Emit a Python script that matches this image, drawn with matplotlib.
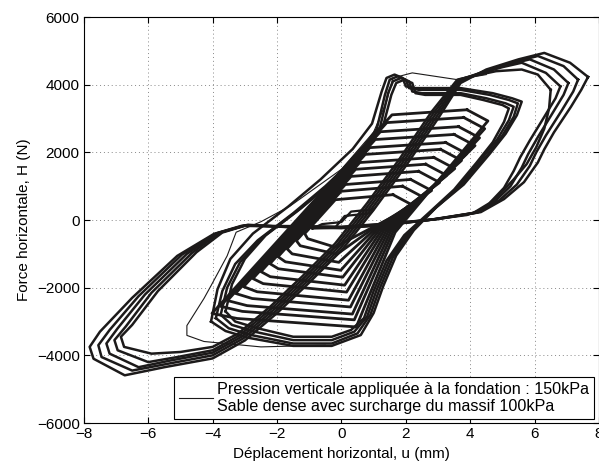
import matplotlib.pyplot as plt

plt.rcParams['font.family'] = ['Liberation Sans', 'DejaVu Sans']

# big loops (amplitude 6.5 - 7.7 mm), vertices (u mm, H N)
big_loops = [
    [(6.5, 3850), (6.45, 3300), (6.3, 2700), (6.05, 2150), (5.75, 1650), (5.35, 1200), (4.85, 700), (4.4, 320),
     (3.9, 150), (2.6, -10), (1.5, -140), (0, -240), (-1.5, -220), (-2.9, -140), (-3.7, -370), (-4.5, -950),
     (-5.7, -2100), (-6.5, -3100), (-6.85, -3450), (-6.75, -3750), (-5.9, -3950), (-5.0, -3900), (-4.0, -3750),
     (-3.2, -3350), (-2.2, -2550), (-1.2, -1650), (-0.2, -700), (0.8, 500), (1.8, 1800), (2.8, 3200), (3.6, 4150),
     (4.2, 4280), (4.8, 4400), (5.6, 4450), (6.1, 4300), (6.5, 3850)],
    [(6.8, 3950), (6.65, 3600), (6.3, 3050), (5.85, 2350), (5.55, 1850), (5.35, 1450), (5.05, 950), (4.6, 500),
     (4.1, 210), (2.7, 0), (1.5, -130), (0, -230), (-1.5, -210), (-2.95, -150), (-3.8, -380), (-4.65, -980),
     (-5.9, -2150), (-6.7, -3150), (-7.05, -3550), (-6.95, -3850), (-6.0, -4200), (-5.1, -4050), (-4.0, -3850),
     (-3.15, -3400), (-2.15, -2600), (-1.15, -1700), (-0.15, -750), (0.85, 450), (1.85, 1750), (2.85, 3150),
     (3.65, 4150), (4.3, 4330), (5.0, 4520), (5.6, 4650), (6.35, 4350), (6.8, 3950)],
    [(7.05, 4050), (6.9, 3700), (6.55, 3150), (6.1, 2450), (5.8, 1950), (5.6, 1550), (5.25, 1000), (4.75, 540),
     (4.2, 220), (2.8, 10), (1.5, -120), (0, -220), (-1.5, -200), (-3.0, -160), (-3.85, -390), (-4.8, -1000),
     (-6.1, -2200), (-6.95, -3200), (-7.3, -3650), (-7.2, -3950), (-6.3, -4350), (-5.3, -4150), (-4.0, -3920),
     (-3.1, -3450), (-2.1, -2650), (-1.1, -1750), (-0.1, -800), (0.9, 400), (1.9, 1700), (2.9, 3100), (3.7, 4150),
     (4.4, 4380), (5.2, 4600), (5.85, 4750), (6.6, 4450), (7.05, 4050)],
    [(7.35, 4150), (7.2, 3800), (6.85, 3250), (6.35, 2500), (6.05, 2000), (5.85, 1600), (5.45, 1050), (4.9, 580),
     (4.25, 230), (2.9, 20), (1.5, -110), (0, -210), (-1.5, -190), (-3.05, -170), (-3.9, -400), (-4.95, -1020),
     (-6.3, -2250), (-7.2, -3250), (-7.55, -3700), (-7.45, -4050), (-6.5, -4450), (-5.4, -4250), (-4.0, -4000),
     (-3.05, -3500), (-2.05, -2700), (-1.05, -1800), (-0.05, -850), (0.95, 350), (1.95, 1650), (2.95, 3050),
     (3.7, 4100), (4.5, 4420), (5.4, 4680), (6.1, 4850), (6.9, 4550), (7.35, 4150)],
    [(7.66, 4230), (7.45, 3850), (7.13, 3350), (6.6, 2590), (6.3, 2090), (6.1, 1700), (5.67, 1120), (5.05, 620),
     (4.33, 235), (3.0, 30), (1.5, -100), (0, -200), (-1.5, -180), (-3.1, -170), (-3.96, -410), (-5.1, -1060),
     (-6.5, -2300), (-7.5, -3300), (-7.82, -3750), (-7.7, -4100), (-6.73, -4590), (-5.5, -4350), (-4.0, -4090),
     (-3.0, -3560), (-2.0, -2750), (-1.0, -1850), (0.0, -900), (1.0, 300), (2.0, 1600), (3.0, 3000), (3.7, 4050),
     (4.5, 4450), (5.5, 4750), (6.3, 4940), (7.1, 4650), (7.66, 4230)],
]

# outer medium loops (amplitude about 5.4 mm), several cycles
outer_loops = [
    [(-3.9, -2900), (-3.7, -2100), (-3.3, -1300), (-2.6, -600), (-1.5, 200), (-0.5, 1000), (0.5, 1900), (1.1, 2700),
     (1.35, 3700), (1.5, 4150), (1.75, 4250), (2.0, 4150), (2.1, 3900), (2.4, 3850), (3.7, 3850), (4.6, 3700),
     (5.2, 3550), (5.48, 3450), (5.35, 3050), (5.0, 2500), (4.5, 1880), (3.7, 1000), (2.87, 320), (2.15, -350),
     (1.6, -1100), (1.2, -2000), (0.9, -2800), (0.5, -3350), (-0.3, -3650), (-1.5, -3650), (-2.8, -3400),
     (-3.5, -3200), (-3.9, -2900)],
    [(-3.75, -2800), (-3.55, -2000), (-3.15, -1250), (-2.5, -550), (-1.4, 250), (-0.4, 1050), (0.6, 1950),
     (1.2, 2750), (1.45, 3750), (1.6, 4100), (1.85, 4200), (2.1, 4100), (2.2, 3800), (2.5, 3750), (3.7, 3750),
     (4.5, 3600), (5.1, 3450), (5.35, 3350), (5.2, 2950), (4.85, 2400), (4.35, 1800), (3.6, 950), (2.8, 250),
     (2.05, -400), (1.5, -1150), (1.1, -2050), (0.8, -2850), (0.4, -3300), (-0.3, -3550), (-1.5, -3550),
     (-2.7, -3300), (-3.4, -3100), (-3.75, -2800)],
    [(-4.05, -3000), (-3.85, -2050), (-3.45, -1150), (-2.75, -400), (-1.65, 400), (-0.65, 1200), (0.35, 2100),
     (0.95, 2850), (1.25, 3800), (1.4, 4200), (1.65, 4300), (1.9, 4200), (2.0, 3950), (2.3, 3900), (3.7, 3900),
     (4.7, 3750), (5.3, 3600), (5.6, 3500), (5.45, 3100), (5.1, 2550), (4.6, 1950), (3.8, 1050), (2.95, 380),
     (2.25, -300), (1.7, -1050), (1.3, -1950), (1.0, -2750), (0.6, -3400), (-0.3, -3720), (-1.5, -3720),
     (-2.9, -3480), (-3.6, -3280), (-4.05, -3000)],
    [(-3.6, -2700), (-3.4, -1900), (-3.0, -1150), (-2.35, -450), (-1.25, 350), (-0.25, 1150), (0.75, 2050),
     (1.3, 2800), (1.55, 3700), (1.7, 4050), (1.95, 4150), (2.2, 4050), (2.3, 3750), (2.6, 3700), (3.7, 3700),
     (4.4, 3550), (5.0, 3400), (5.2, 3300), (5.05, 2900), (4.7, 2300), (4.2, 1700), (3.5, 900), (2.7, 200),
     (1.95, -450), (1.4, -1200), (1.0, -2100), (0.7, -2900), (0.3, -3250), (-0.3, -3450), (-1.5, -3450),
     (-2.6, -3200), (-3.3, -3000), (-3.6, -2700)],
]

# nested chevron loops: upper vertex F, plateau end G, left end A, lower vertex B,
# lower plateau end C, fan top D, right tip E
chevron_loops = [
    [(1.6, 750), (-0.19, 600), (-1.14, -400), (-1.05, -550), (-0.2, -800), (0.9, -250), (2.25, 420), (1.6, 750)],
    [(1.9, 1000), (-0.01, 850), (-1.40, -610), (-1.28, -760), (-0.14, -1010), (0.97, -260), (2.55, 670), (1.9, 1000)],
    [(2.15, 1200), (0.12, 1050), (-1.69, -850), (-1.53, -1000), (-0.08, -1250), (1.04, -270), (2.8, 870), (2.15, 1200)],
    [(2.4, 1440), (0.3, 1290), (-1.97, -1085), (-1.74, -1235), (-0.02, -1485), (1.11, -280), (3.05, 1110), (2.4, 1440)],
    [(2.62, 1650), (0.44, 1500), (-2.22, -1290), (-1.96, -1440), (0.04, -1690), (1.18, -290), (3.27, 1320), (2.62, 1650)],
    [(2.87, 1850), (0.57, 1700), (-2.5, -1525), (-2.21, -1675), (0.1, -1925), (1.25, -300), (3.52, 1520), (2.87, 1850)],
    [(3.08, 2090), (0.74, 1940), (-2.75, -1730), (-2.43, -1880), (0.16, -2130), (1.32, -310), (3.73, 1760), (3.08, 2090)],
    [(3.24, 2290), (0.88, 2140), (-3.04, -1970), (-2.62, -2120), (0.22, -2370), (1.39, -320), (3.89, 1960), (3.24, 2290)],
    [(3.5, 2530), (1.05, 2380), (-3.29, -2170), (-2.77, -2320), (0.28, -2570), (1.46, -330), (4.15, 2200), (3.5, 2530)],
    [(3.64, 2760), (1.21, 2610), (-3.54, -2380), (-2.93, -2530), (0.34, -2780), (1.53, -340), (4.29, 2430), (3.64, 2760)],
    [(3.8, 3030), (1.41, 2880), (-3.76, -2550), (-3.08, -2700), (0.4, -2950), (1.6, -350), (4.45, 2700), (3.8, 3030)],
    [(3.9, 3260), (1.57, 3110), (-4.02, -2760), (-3.24, -2910), (0.46, -3160), (1.67, -360), (4.55, 2930), (3.9, 3260)],
]

# first small cycle near the origin
small_loop = [(-0.9, -250), (-0.6, -120), (0.0, -60), (0.3, 250), (1.0, 320), (0.9, 200), (0.1, 120),
              (-0.2, -230), (-0.9, -250)]

# single transition cycle (thin line)
thin_path = [(-0.5, -3700), (-2.5, -3750), (-4.27, -3590), (-4.8, -3410), (-4.8, -3120), (-4.27, -2320),
             (-4.05, -1940), (-3.55, -1060), (-3.27, -360), (-2.5, -50), (-1.6, 410), (0.0, 1500), (1.0, 2600),
             (1.4, 3500), (1.6, 4200), (2.2, 4350), (3.6, 4150), (4.5, 4300)]

legend_label = ('Pression verticale appliquée à la fondation : 150kPa\n'
                'Sable dense avec surcharge du massif 100kPa')

fig = plt.figure(figsize=(5.99, 4.65), dpi=100)
ax = fig.add_axes([0.140, 0.0903, 0.860, 0.873])

col = '#1c1a1a'
for loop in big_loops:
    ax.plot([p[0] for p in loop], [p[1] for p in loop], color=col, lw=1.8)
for loop in outer_loops:
    ax.plot([p[0] for p in loop], [p[1] for p in loop], color=col, lw=1.8)
for loop in chevron_loops:
    ax.plot([p[0] for p in loop], [p[1] for p in loop], color=col, lw=2.0)
ax.plot([p[0] for p in small_loop], [p[1] for p in small_loop], color=col, lw=1.6)
ax.plot([p[0] for p in thin_path], [p[1] for p in thin_path], color=col, lw=0.8)

# legend handle
ax.plot([], [], color=col, lw=0.8, label=legend_label)

ax.set_xlim(-8, 8)
ax.set_ylim(-6000, 6000)
ax.set_xticks(range(-8, 9, 2))
ax.set_yticks(range(-6000, 6001, 2000))
ax.set_yticklabels(['\u22126000', '\u22124000', '\u22122000', '0', '2000', '4000', '6000'])
ax.set_xticklabels(['\u22128', '\u22126', '\u22124', '\u22122', '0', '2', '4', '6', '8'])
ax.grid(True, linestyle=(0, (1, 3)), color='#888888', lw=0.7)
ax.tick_params(direction='in', top=True, right=True, labelsize=11, length=4, width=0.8, pad=3)
for s in ax.spines.values():
    s.set_linewidth(0.8)

ax.set_xlabel('Déplacement horizontal, u (mm)', fontsize=11, labelpad=4)
ax.set_ylabel('Force horizontale, H (N)', fontsize=11, labelpad=4)

leg = ax.legend(loc='lower right', bbox_to_anchor=(0.99, 0.01), borderaxespad=0, fontsize=11.6,
                fancybox=False, handlelength=2.1, handletextpad=0.25, borderpad=0.3,
                labelspacing=0.1, framealpha=1)
leg.get_frame().set_edgecolor('black')
leg.get_frame().set_linewidth(0.8)

plt.savefig('out.png', dpi=100)
